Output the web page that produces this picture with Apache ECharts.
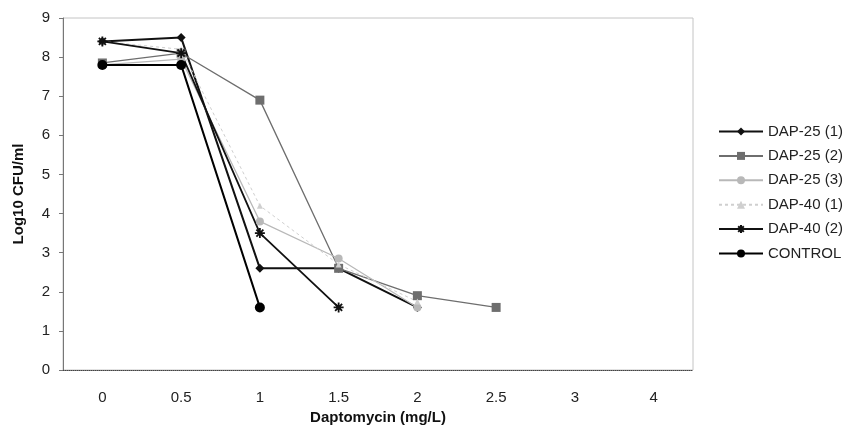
<!DOCTYPE html>
<html>
<head>
<meta charset="utf-8">
<script src="https://cdn.jsdelivr.net/npm/echarts@6/dist/echarts.min.js"></script>
<style>
  html, body { margin: 0; padding: 0; background: #fff; }
  #chart { width: 863px; height: 440px; }
</style>
</head>
<body>
<div id="chart"></div>
<script>
// Daptomycin concentrations (mg/L) on the x axis
const doses = ['0', '0.5', '1', '1.5', '2', '2.5', '3', '4'];

// Log10 CFU/ml per strain; null where no count was recorded
const dap25_1 = [8.4, 8.5, 2.6, 2.6, 1.6, null, null, null];
const dap25_2 = [7.85, 8.1, 6.9, 2.6, 1.9, 1.6, null, null];
const dap25_3 = [7.8, 7.95, 3.8, 2.85, 1.6, null, null, null];
const dap40_1 = [8.4, 8.2, 4.2, 2.7, 1.75, null, null, null];
const dap40_2 = [8.4, 8.1, 3.5, 1.6, null, null, null, null];
const control = [7.8, 7.8, 1.6, null, null, null, null, null];

const yTicks = [0, 1, 2, 3, 4, 5, 6, 7, 8, 9];

const asterisk = 'path://M5,0L5,10M0,5L10,5M1.5,1.5L8.5,8.5M1.5,8.5L8.5,1.5';
const FONT = 'Liberation Sans, Arial, Helvetica, sans-serif';

function line(name, data, color, width, type, symbol, size, extra) {
  return Object.assign({
    name: name,
    type: 'line',
    data: data,
    connectNulls: false,
    symbol: symbol,
    symbolSize: size,
    lineStyle: { color: color, width: width, type: type },
    itemStyle: { color: color, borderColor: color, borderWidth: 0 },
    emphasis: { disabled: true },
    animation: false
  }, extra || {});
}

const chart = echarts.init(document.getElementById('chart'));
chart.setOption({
  backgroundColor: '#ffffff',
  textStyle: { fontFamily: FONT },
  grid: {
    left: 63, right: 170, top: 18, bottom: 70,
    show: true, borderColor: '#c4c4c4', borderWidth: 1
  },
  legend: {
    orient: 'vertical',
    left: 713, top: 119,
    itemWidth: 44, itemHeight: 10, itemGap: 9.4,
    textStyle: { fontSize: 15, lineHeight: 15, color: '#222', fontFamily: FONT },
    data: ['DAP-25 (1)', 'DAP-25 (2)', 'DAP-25 (3)', 'DAP-40 (1)', 'DAP-40 (2)', 'CONTROL']
  },
  xAxis: {
    type: 'category',
    data: doses,
    boundaryGap: true,
    name: 'Daptomycin (mg/L)',
    nameLocation: 'middle',
    nameGap: 34,
    nameTextStyle: { fontSize: 15, fontWeight: 'bold', color: '#111' },
    axisLine: { lineStyle: { color: '#444', width: 1, type: 'dotted' } },
    axisTick: { show: false },
    axisLabel: { fontSize: 15, color: '#222', margin: 20 },
    splitLine: { show: false }
  },
  yAxis: {
    type: 'value',
    min: 0, max: 9, interval: 1,
    name: 'Log10 CFU/ml',
    nameLocation: 'middle',
    nameGap: 37,
    nameTextStyle: { fontSize: 15, fontWeight: 'bold', color: '#111' },
    axisLine: { show: true, lineStyle: { color: '#777', width: 1 } },
    axisTick: { show: true, length: 4, inside: false, lineStyle: { color: '#777' } },
    axisLabel: {
      fontSize: 15, color: '#222', margin: 13,
      formatter: function (v) { return yTicks.indexOf(v) >= 0 ? String(v) : ''; }
    },
    splitLine: { show: false }
  },
  series: [
    line('DAP-25 (1)', dap25_1, '#111111', 2, 'solid', 'diamond', 9),
    line('DAP-25 (2)', dap25_2, '#6e6e6e', 1.3, 'solid', 'rect', 9),
    line('DAP-25 (3)', dap25_3, '#b8b8b8', 1.2, 'solid', 'circle', 8),
    line('DAP-40 (1)', dap40_1, '#cfcfcf', 1, [3, 3], 'triangle', 6),
    line('DAP-40 (2)', dap40_2, '#111111', 1.8, 'solid', asterisk, 10, {
      itemStyle: { color: 'none', borderColor: '#111111', borderWidth: 1.8 }
    }),
    line('CONTROL', control, '#000000', 2, 'solid', 'circle', 10)
  ]
});
</script>
</body>
</html>
